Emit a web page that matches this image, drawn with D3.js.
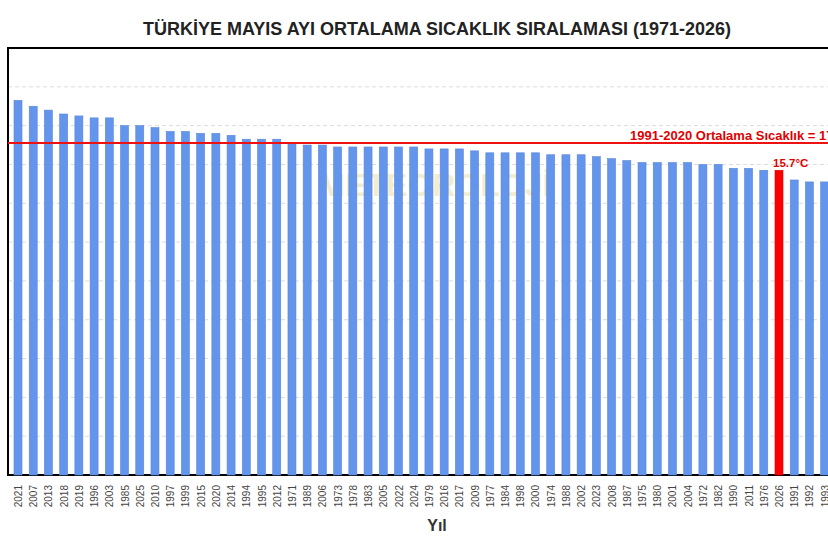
<!DOCTYPE html>
<html>
<head>
<meta charset="utf-8">
<script src="https://cdn.jsdelivr.net/npm/d3@7"></script>
<style>
  body { margin: 0; background: #fff; }
  svg { display: block; font-family: "Liberation Sans", Arial, sans-serif; }
</style>
</head>
<body>
<svg width="828" height="552"></svg>
<script>
// ranking of May mean temperatures, warmest first (last two years fall off the crop)
var years = ['2021','2007','2013','2018','2019','1996','2003','1985','2025','2010',
             '1997','1999','2015','2020','2014','1994','1995','2012','1971','1989',
             '2006','1973','1978','1983','2005','2022','2024','1979','2016','2017',
             '2009','1977','1984','1998','2000','1974','1988','2002','2023','2008',
             '1987','1975','1980','2001','2004','1972','1982','1990','2011','1976',
             '2026','1991','1992','1993'];
var temps = [19.3, 19.0, 18.8, 18.6, 18.5, 18.4, 18.4, 18.0, 18.0, 17.9,
             17.7, 17.7, 17.6, 17.6, 17.5, 17.3, 17.3, 17.3, 17.1, 17.0,
             17.0, 16.9, 16.9, 16.9, 16.9, 16.9, 16.9, 16.8, 16.8, 16.8,
             16.7, 16.6, 16.6, 16.6, 16.6, 16.5, 16.5, 16.5, 16.4, 16.3,
             16.2, 16.1, 16.1, 16.1, 16.1, 16.0, 16.0, 15.8, 15.8, 15.7,
             15.7, 15.2, 15.1, 15.1];
var yTicks = [2, 4, 6, 8, 10, 12, 14, 16, 18, 20];
var normalMean = 17.1;
var highlightYear = '2026';

var svg = d3.select('svg');

var plot = { left: 8, top: 48, right: 865, bottom: 475 };

var x = d3.scalePoint()
    .domain(years)
    .range([18, 18 + 15.22 * (years.length - 1)]);
var barW = 8;

var y = d3.scaleLinear()
    .domain([0, 22])
    .range([plot.bottom, plot.top]);

// title
svg.append('text')
    .attr('x', 437)
    .attr('y', 34.5)
    .attr('text-anchor', 'middle')
    .style('font-size', '18px')
    .style('font-weight', 'bold')
    .style('fill', '#222')
    .text('TÜRKİYE MAYIS AYI ORTALAMA SICAKLIK SIRALAMASI (1971-2026)');

// grid
svg.append('g')
    .selectAll('line')
    .data(yTicks)
    .enter()
    .append('line')
    .attr('x1', plot.left)
    .attr('x2', plot.right)
    .attr('y1', function (d) { return y(d); })
    .attr('y2', function (d) { return y(d); })
    .attr('stroke', '#dcdcdc')
    .attr('stroke-width', 1)
    .attr('stroke-dasharray', '4,3');

// faint watermark
svg.append('text')
    .attr('x', 435)
    .attr('y', 196)
    .attr('text-anchor', 'middle')
    .style('font-size', '32px')
    .style('font-weight', 'bold')
    .style('fill', '#e8dca0')
    .style('opacity', 0.5)
    .text('METEOROLOJİ');

// frame
svg.append('path')
    .attr('d', 'M' + plot.right + ',' + plot.top + 'H' + plot.left + 'V' + plot.bottom + 'H' + plot.right)
    .attr('fill', 'none')
    .attr('stroke', '#000')
    .attr('stroke-width', 2);

// bars
svg.append('g')
    .selectAll('rect')
    .data(years)
    .enter()
    .append('rect')
    .attr('x', function (d) { return x(d) - barW / 2; })
    .attr('y', function (d, i) { return y(temps[i]); })
    .attr('width', barW)
    .attr('height', function (d, i) { return y(0) - y(temps[i]); })
    .attr('fill', function (d) { return d === highlightYear ? '#ff0000' : '#6495ed'; })
    .attr('stroke', function (d) { return d === highlightYear ? '#d00000' : '#5a86d6'; })
    .attr('stroke-width', 0.6);

// mean line
svg.append('line')
    .attr('x1', plot.left)
    .attr('x2', plot.right)
    .attr('y1', y(normalMean))
    .attr('y2', y(normalMean))
    .attr('stroke', '#ee1111')
    .attr('stroke-width', 2);

svg.append('text')
    .attr('x', 630)
    .attr('y', y(normalMean) - 3.5)
    .style('font-size', '13px')
    .style('font-weight', 'bold')
    .style('fill', '#e00000')
    .text('1991-2020 Ortalama Sıcaklık = ' + normalMean + '°C');

// highlighted value
var hi = years.indexOf(highlightYear);
svg.append('text')
    .attr('x', x(highlightYear) - 6)
    .attr('y', y(temps[hi]) - 3.5)
    .style('font-size', '11.5px')
    .style('font-weight', 'bold')
    .style('fill', '#e00000')
    .text(temps[hi] + '°C');

// x axis labels
var xAxis = d3.axisBottom(x).tickSize(0).tickPadding(0);
var gx = svg.append('g')
    .attr('transform', 'translate(0,' + plot.bottom + ')')
    .call(xAxis);
gx.select('.domain').remove();
gx.selectAll('text')
    .attr('transform', 'rotate(-90)')
    .attr('x', -10)
    .attr('y', 0)
    .attr('dy', '0.35em')
    .style('text-anchor', 'end')
    .style('font-size', '10px')
    .style('font-family', '"Liberation Sans", Arial, sans-serif')
    .style('fill', '#444');

svg.append('text')
    .attr('x', 437)
    .attr('y', 531)
    .attr('text-anchor', 'middle')
    .style('font-size', '16px')
    .style('font-weight', 'bold')
    .style('fill', '#333')
    .text('Yıl');
</script>
</body>
</html>
